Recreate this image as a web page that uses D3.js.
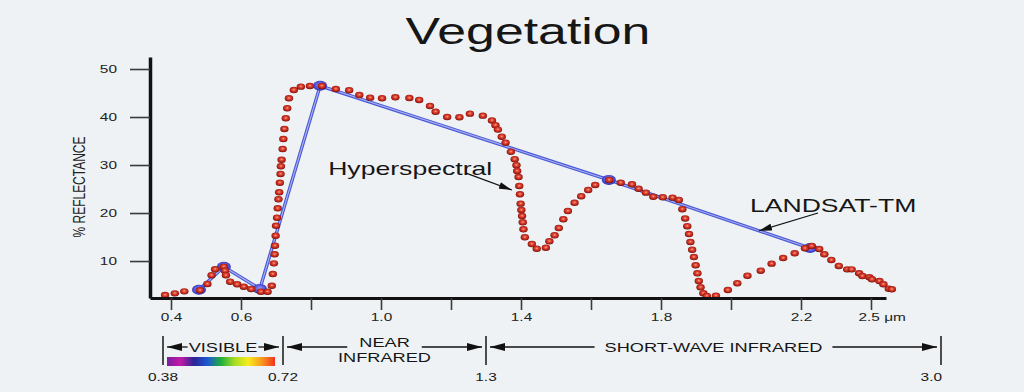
<!DOCTYPE html>
<html>
<head>
<meta charset="utf-8">
<script src="https://cdn.jsdelivr.net/npm/d3@7"></script>
<style>
  body { margin: 0; background: #eef2f4; }
  svg { display: block; font-family: "Liberation Sans", Arial, Helvetica, sans-serif; }
</style>
</head>
<body>
<svg id="chart"></svg>
<script>
// hyperspectral curve, wavelength in micrometres and % reflectance
const hyperWavelength = [0.383,0.411,0.438,0.483,0.504,0.516,0.526,0.551,0.554,0.557,0.569,0.589,0.608,0.629,0.657,0.676,0.688,0.691,0.694,0.696,0.697,0.699,0.700,0.703,0.705,0.707,0.709,0.711,0.713,0.714,0.716,0.719,0.721,0.724,0.728,0.732,0.737,0.751,0.771,0.797,0.831,0.871,0.909,0.938,0.969,1.003,1.041,1.081,1.109,1.140,1.156,1.189,1.224,1.254,1.291,1.317,1.327,1.334,1.345,1.356,1.371,1.382,1.387,1.389,1.393,1.395,1.397,1.399,1.401,1.403,1.405,1.407,1.411,1.431,1.445,1.471,1.481,1.496,1.508,1.521,1.534,1.553,1.572,1.592,1.612,1.652,1.685,1.717,1.736,1.757,1.778,1.805,1.833,1.851,1.861,1.869,1.875,1.880,1.884,1.889,1.894,1.899,1.904,1.908,1.913,1.921,1.931,1.957,1.991,2.018,2.047,2.085,2.116,2.149,2.182,2.217,2.246,2.278,2.300,2.330,2.362,2.398,2.417,2.449,2.463,2.493,2.504,2.536,2.553,2.576,2.589];
const hyperReflectance = [2.92,3.27,3.69,3.90,5.22,7.03,8.28,8.82,7.99,7.03,5.70,5.15,4.65,4.18,3.61,3.61,4.86,7.30,9.52,11.40,13.19,15.28,17.36,19.03,20.98,22.86,24.32,26.32,28.13,29.74,31.11,33.34,35.42,37.51,39.74,41.82,43.90,45.63,46.32,46.47,46.47,45.84,45.57,44.59,44.03,43.90,44.11,43.97,43.55,42.30,41.11,40.01,39.94,40.70,40.28,39.28,38.30,37.38,35.90,34.65,32.75,31.21,29.96,28.76,27.51,25.63,23.90,21.95,20.63,19.38,18.07,16.61,14.95,13.55,12.57,12.78,14.11,15.36,16.88,18.70,20.42,22.15,23.49,24.80,25.84,26.88,26.32,25.98,25.07,24.24,23.40,23.28,23.20,22.72,20.80,18.86,17.26,15.63,13.97,12.36,10.84,9.11,7.44,5.84,4.53,3.28,2.72,2.78,3.97,5.36,6.95,7.99,9.45,10.63,11.61,12.65,13.13,12.51,11.40,10.21,8.97,8.27,8.27,7.44,6.88,6.61,6.19,5.84,5.15,4.24,4.11];

// Landsat TM band samples
const tmWavelength = [0.48, 0.551, 0.654, 0.826, 1.651, 2.239];
const tmReflectance = [4.0, 8.8, 4.2, 46.5, 26.9, 12.7];

// axes
const xTicks = [0.4, 0.6, 0.8, 1.0, 1.2, 1.4, 1.6, 1.8, 2.0, 2.2, 2.5];
const xTickLabels = ["0.4", "0.6", "", "1.0", "", "1.4", "", "1.8", "", "2.2", "2.5 \u03bcm"];
const yTicks = [10, 20, 30, 40, 50];

// spectral regions under the chart
const bandEdges = [0.38, 0.72, 1.3, 3.0];
const bandEdgeLabels = ["0.38", "0.72", "1.3", "3.0"];
const bandNames = [["VISIBLE"], ["NEAR", "INFRARED"], ["SHORT-WAVE INFRARED"]];
const spectrumColors = ["#7a1fa0", "#c21aa6", "#2a2496", "#1c58d4", "#1fae3c", "#a6dc24", "#f6ec1e", "#f89c1e", "#f4321e"];

// annotation labels, in data units
const annotations = [
  { text: "Hyperspectral", tx: 0.849, ty: 27.9, from: [1.243, 28.3], to: [1.374, 24.8] },
  { text: "LANDSAT-TM", tx: 2.054, ty: 20.2, from: [2.273, 20.0], to: [2.08, 16.3] }
];

class SpectrumChart {

  constructor(_config) {
    this.config = {
      parentElement: _config.parentElement,
      containerWidth: 1024,
      containerHeight: 392,
      stretch: 1.4, // the source lettering is widened sideways
      plot: { left: 150, right: 886, top: 57, bottom: 298 },
      bandRow: { top: 336, bottom: 365, arrow: 347, label: 381 },
      bandGap: [1, 12, 10]
    };
    this.initVis();
  }

  // text that is widened like the picture
  label(parent, x, y, str, size, anchor) {
    return parent.append("text")
        .attr("transform", `translate(${x},${y}) scale(${this.config.stretch},1)`)
        .attr("text-anchor", anchor || "start")
        .attr("font-size", size)
        .attr("fill", "#161616")
        .text(str);
  }

  initVis() {
    let vis = this;
    let c = vis.config;

    vis.svg = d3.select(c.parentElement)
        .attr("width", c.containerWidth)
        .attr("height", c.containerHeight);

    vis.svg.append("rect")
        .attr("width", c.containerWidth)
        .attr("height", c.containerHeight)
        .attr("fill", "#eef2f4");

    let defs = vis.svg.append("defs");

    let dotGrad = defs.append("radialGradient").attr("id", "dot-grad")
        .attr("cx", "50%").attr("cy", "45%").attr("r", "55%");
    dotGrad.append("stop").attr("offset", "0%").attr("stop-color", "#f7a591");
    dotGrad.append("stop").attr("offset", "35%").attr("stop-color", "#e04634");
    dotGrad.append("stop").attr("offset", "80%").attr("stop-color", "#ad1d13");
    dotGrad.append("stop").attr("offset", "100%").attr("stop-color", "#650d07");

    let tmGrad = defs.append("radialGradient").attr("id", "tm-grad")
        .attr("cx", "50%").attr("cy", "45%").attr("r", "55%");
    tmGrad.append("stop").attr("offset", "0%").attr("stop-color", "#9a9cf6");
    tmGrad.append("stop").attr("offset", "70%").attr("stop-color", "#4a4ed8");
    tmGrad.append("stop").attr("offset", "100%").attr("stop-color", "#2a2aa8");

    let spec = defs.append("linearGradient").attr("id", "spectrum");
    spectrumColors.forEach((col, i) => {
      spec.append("stop")
          .attr("offset", `${(i / (spectrumColors.length - 1)) * 100}%`)
          .attr("stop-color", col);
    });

    defs.append("marker").attr("id", "band-head")
        .attr("viewBox", "0 0 15 8").attr("refX", 15).attr("refY", 4)
        .attr("markerWidth", 15).attr("markerHeight", 8)
        .attr("markerUnits", "userSpaceOnUse").attr("orient", "auto")
        .append("path").attr("d", "M0,0L15,4L0,8Z").attr("fill", "#111");

    defs.append("marker").attr("id", "note-head")
        .attr("viewBox", "0 0 13 7").attr("refX", 13).attr("refY", 3.5)
        .attr("markerWidth", 13).attr("markerHeight", 7)
        .attr("markerUnits", "userSpaceOnUse").attr("orient", "auto")
        .append("path").attr("d", "M0,0L13,3.5L0,7Z").attr("fill", "#111");

    // x scale is bent: the last labelled tick reads 2.5 at the 2.4 spacing
    vis.xScale = d3.scaleLinear()
        .domain([0.34, 2.2, 2.5, 2.564])
        .range([c.plot.left, 801, 871, c.plot.right]);
    vis.yScale = d3.scaleLinear()
        .domain([2.3, 52.5])
        .range([c.plot.bottom, c.plot.top]);
    vis.bandScale = d3.scaleLinear()
        .domain(bandEdges)
        .range([163, 283, 486, 941]);

    // title and axis label
    vis.label(vis.svg, 528, 44, "Vegetation", 37, "middle");
    vis.svg.append("text")
        .attr("transform", `translate(79,187) scale(${c.stretch},1) rotate(-90)`)
        .attr("text-anchor", "middle")
        .attr("dy", "0.35em")
        .attr("font-size", 12)
        .attr("fill", "#222")
        .text("% REFLECTANCE");

    vis.chart = vis.svg.append("g");
    vis.xAxis = vis.svg.append("g").attr("transform", `translate(0,${c.plot.bottom})`);
    vis.yAxis = vis.svg.append("g").attr("transform", `translate(${c.plot.left},0)`);
    vis.bands = vis.svg.append("g");
    vis.notes = vis.svg.append("g");
  }

  updateVis() {
    let vis = this;
    let c = vis.config;

    vis.hyper = hyperWavelength.map((w, i) => ({ w: w, r: hyperReflectance[i] }));
    vis.tm = tmWavelength.map((w, i) => ({ w: w, r: tmReflectance[i] }));

    vis.xAxis.call(d3.axisBottom(vis.xScale)
        .tickValues(xTicks)
        .tickFormat((d, i) => xTickLabels[i])
        .tickSize(12).tickPadding(3).tickSizeOuter(0));
    vis.yAxis.call(d3.axisLeft(vis.yScale)
        .tickValues(yTicks)
        .tickSize(20).tickPadding(3).tickSizeOuter(0));

    vis.xAxis.select(".domain").attr("stroke", "#111").attr("stroke-width", 3);
    vis.yAxis.select(".domain").attr("stroke", "#111").attr("stroke-width", 3.5);
    vis.svg.selectAll(".tick line").attr("stroke", "#3a3a3a").attr("stroke-width", 1.6);
    vis.svg.selectAll(".tick text")
        .attr("font-family", "Liberation Sans, Arial, sans-serif")
        .attr("font-size", 11)
        .attr("fill", "#222")
        .attr("transform", `scale(${c.stretch},1)`);
    vis.yAxis.selectAll(".tick text").attr("x", -33 / c.stretch);
    vis.xAxis.selectAll(".tick text")
        .filter((d, i) => i === xTicks.length - 1)
        .attr("text-anchor", "start")
        .attr("x", -13 / c.stretch);

    vis.renderVis();
  }

  renderVis() {
    let vis = this;
    let c = vis.config;
    let x = vis.xScale, y = vis.yScale;

    // Landsat line, outlined blue with a pale core
    let tmLine = d3.line().x(d => x(d.w)).y(d => y(d.r));
    vis.chart.append("path").datum(vis.tm)
        .attr("d", tmLine).attr("fill", "none")
        .attr("stroke", "#4b58d6").attr("stroke-width", 3.4);
    vis.chart.append("path").datum(vis.tm)
        .attr("d", tmLine).attr("fill", "none")
        .attr("stroke", "#aab3f3").attr("stroke-width", 1.1);

    vis.chart.selectAll(".tm-dot")
        .data(vis.tm)
        .join("ellipse")
        .attr("class", "tm-dot")
        .attr("cx", d => x(d.w))
        .attr("cy", d => y(d.r))
        .attr("rx", 7).attr("ry", 5)
        .attr("fill", "url(#tm-grad)");

    vis.chart.selectAll(".hyper-dot")
        .data(vis.hyper)
        .join("ellipse")
        .attr("class", "hyper-dot")
        .attr("cx", d => x(d.w))
        .attr("cy", d => y(d.r))
        .attr("rx", 4.2).attr("ry", 3.2)
        .attr("fill", "url(#dot-grad)");

    // annotations
    annotations.forEach(a => {
      vis.label(vis.notes, x(a.tx), y(a.ty), a.text, 19, "start");
      vis.notes.append("line")
          .attr("x1", x(a.from[0])).attr("y1", y(a.from[1]))
          .attr("x2", x(a.to[0])).attr("y2", y(a.to[1]))
          .attr("stroke", "#111").attr("stroke-width", 1.2)
          .attr("marker-end", "url(#note-head)");
    });

    // spectral regions
    let b = vis.bandScale;
    let row = c.bandRow;
    vis.bands.selectAll(".edge")
        .data(bandEdges)
        .join("line")
        .attr("class", "edge")
        .attr("x1", d => b(d)).attr("x2", d => b(d))
        .attr("y1", row.top).attr("y2", row.bottom)
        .attr("stroke", "#222").attr("stroke-width", 1.6);

    bandEdges.forEach((e, i) => {
      let last = i === bandEdges.length - 1;
      vis.label(vis.bands, b(e) + (last ? 1 : 0), row.label, bandEdgeLabels[i], 11, last ? "end" : "middle");
    });

    vis.bands.append("rect")
        .attr("x", b(bandEdges[0]) + 4)
        .attr("y", 357)
        .attr("width", b(bandEdges[1]) - b(bandEdges[0]) - 12)
        .attr("height", 9)
        .attr("fill", "url(#spectrum)");

    bandNames.forEach((lines, i) => {
      let x0 = b(bandEdges[i]), x1 = b(bandEdges[i + 1]);
      let mid = (x0 + x1) / 2;
      let half = 0;
      lines.forEach((str, j) => {
        let yy = lines.length === 1 ? row.arrow + 4.7 : row.arrow + j * 15;
        let t = vis.label(vis.bands, mid, yy, str, 13, "middle");
        if (j === 0) half = t.node().getComputedTextLength() * c.stretch / 2;
      });
      let gap = c.bandGap[i];
      vis.bands.append("line")
          .attr("x1", mid - half - gap).attr("x2", x0 + 4)
          .attr("y1", row.arrow).attr("y2", row.arrow)
          .attr("stroke", "#111").attr("stroke-width", 1.3)
          .attr("marker-end", "url(#band-head)");
      vis.bands.append("line")
          .attr("x1", mid + half + gap).attr("x2", x1 - 4)
          .attr("y1", row.arrow).attr("y2", row.arrow)
          .attr("stroke", "#111").attr("stroke-width", 1.3)
          .attr("marker-end", "url(#band-head)");
    });
  }
}

let chart = new SpectrumChart({ parentElement: "#chart" });
chart.updateVis();
</script>
</body>
</html>
